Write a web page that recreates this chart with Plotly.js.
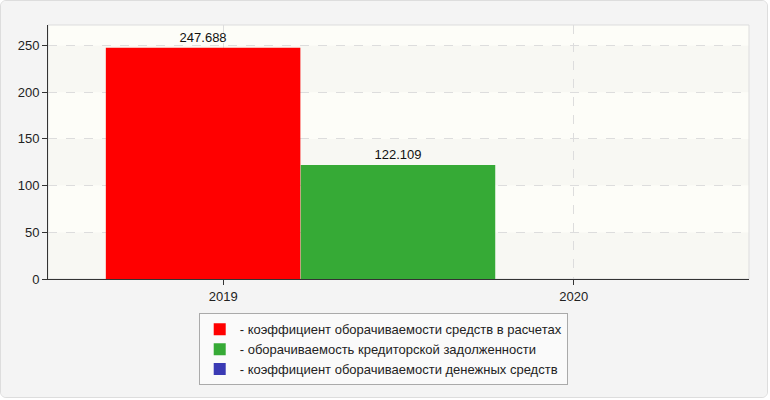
<!DOCTYPE html>
<html>
<head>
<meta charset="utf-8">
<script src="https://cdn.plot.ly/plotly-3.0.1.min.js"></script>
<style>
  body { margin: 0; background: #ffffff; }
  #chart { width: 766px; height: 396px; border: 1px solid #dddddd; border-radius: 6px; overflow: hidden; background: #f4f4f4; }
</style>
</head>
<body>
<div id="chart"></div>
<script>
// years on the x axis
let years = ['2019', '2020'];

// series values (2020 has no data)
let receivables = [247.688, null];
let payables = [122.109, null];
let cash = [null, null];

let seriesNames = [
    '- коэффициент оборачиваемости средств в расчетах',
    '- оборачиваемость кредиторской задолженности',
    '- коэффициент оборачиваемости денежных средств'
];
let seriesColors = ['#ff0000', '#36aa36', '#3a3ab4'];

let yTicks = [0, 50, 100, 150, 200, 250];
let yMax = 272;

function labels(vals){
    return vals.map(v => v == null ? '' : String(v));
}

let barWidth = 0.555;
let offsets = [-0.335, 0.221, 0.777];
let allValues = [receivables, payables, cash];

let data = allValues.map((vals, i) => ({
    type: 'bar',
    x: years,
    y: vals,
    name: seriesNames[i],
    width: barWidth,
    offset: offsets[i],
    marker: {color: seriesColors[i], line: {width: 0}},
    text: labels(vals),
    textposition: 'outside',
    cliponaxis: false,
    textfont: {size: 13, color: '#111111'},
    hoverinfo: 'none'
}));

// faint alternating bands in the plot area
let bands = [];
let edges = yTicks.concat([yMax]);
for (let i = 0; i < edges.length - 1; i++) {
    if (i % 2 == 0) {
        bands.push({
            type: 'rect', xref: 'paper', yref: 'y', layer: 'below',
            x0: 0, x1: 1, y0: edges[i], y1: edges[i + 1],
            fillcolor: 'rgba(0,0,0,0.018)', line: {width: 0}
        });
    }
}
bands.push({
    type: 'rect', xref: 'paper', yref: 'paper', layer: 'below',
    x0: 0, x1: 1, y0: 0, y1: 1,
    line: {color: '#dddddd', width: 1}
});

let layout = {
    width: 766,
    height: 396,
    margin: {l: 47, r: 18, t: 24, b: 114},
    paper_bgcolor: '#f4f4f4',
    plot_bgcolor: '#fdfdf8',
    font: {family: 'Arial, "Liberation Sans", sans-serif', size: 13, color: '#222222'},
    barmode: 'overlay',
    showlegend: true,
    shapes: bands,
    xaxis: {
        type: 'category',
        range: [-0.5, 1.5],
        showgrid: true,
        gridcolor: '#dddddd',
        griddash: 'dash',
        showline: true,
        linecolor: '#333333',
        linewidth: 1,
        ticks: 'outside',
        ticklen: 5,
        tickcolor: '#333333',
        tickfont: {size: 13, color: '#222222'},
        zeroline: false
    },
    yaxis: {
        range: [0, yMax],
        tickvals: yTicks,
        showgrid: true,
        gridcolor: '#dddddd',
        griddash: 'dash',
        showline: true,
        linecolor: '#333333',
        linewidth: 1,
        ticks: 'outside',
        ticklen: 5,
        tickcolor: '#333333',
        tickfont: {size: 13, color: '#222222'},
        zeroline: false
    },
    legend: {
        orientation: 'v',
        x: 0.215,
        xanchor: 'left',
        y: -0.135,
        yanchor: 'top',
        bgcolor: '#fafafa',
        bordercolor: '#aaaaaa',
        borderwidth: 1,
        font: {size: 13, color: '#222222'},
        itemwidth: 30,
        tracegroupgap: 0
    }
};

Plotly.newPlot('chart', data, layout, {displayModeBar: false, staticPlot: true});
</script>
</body>
</html>
